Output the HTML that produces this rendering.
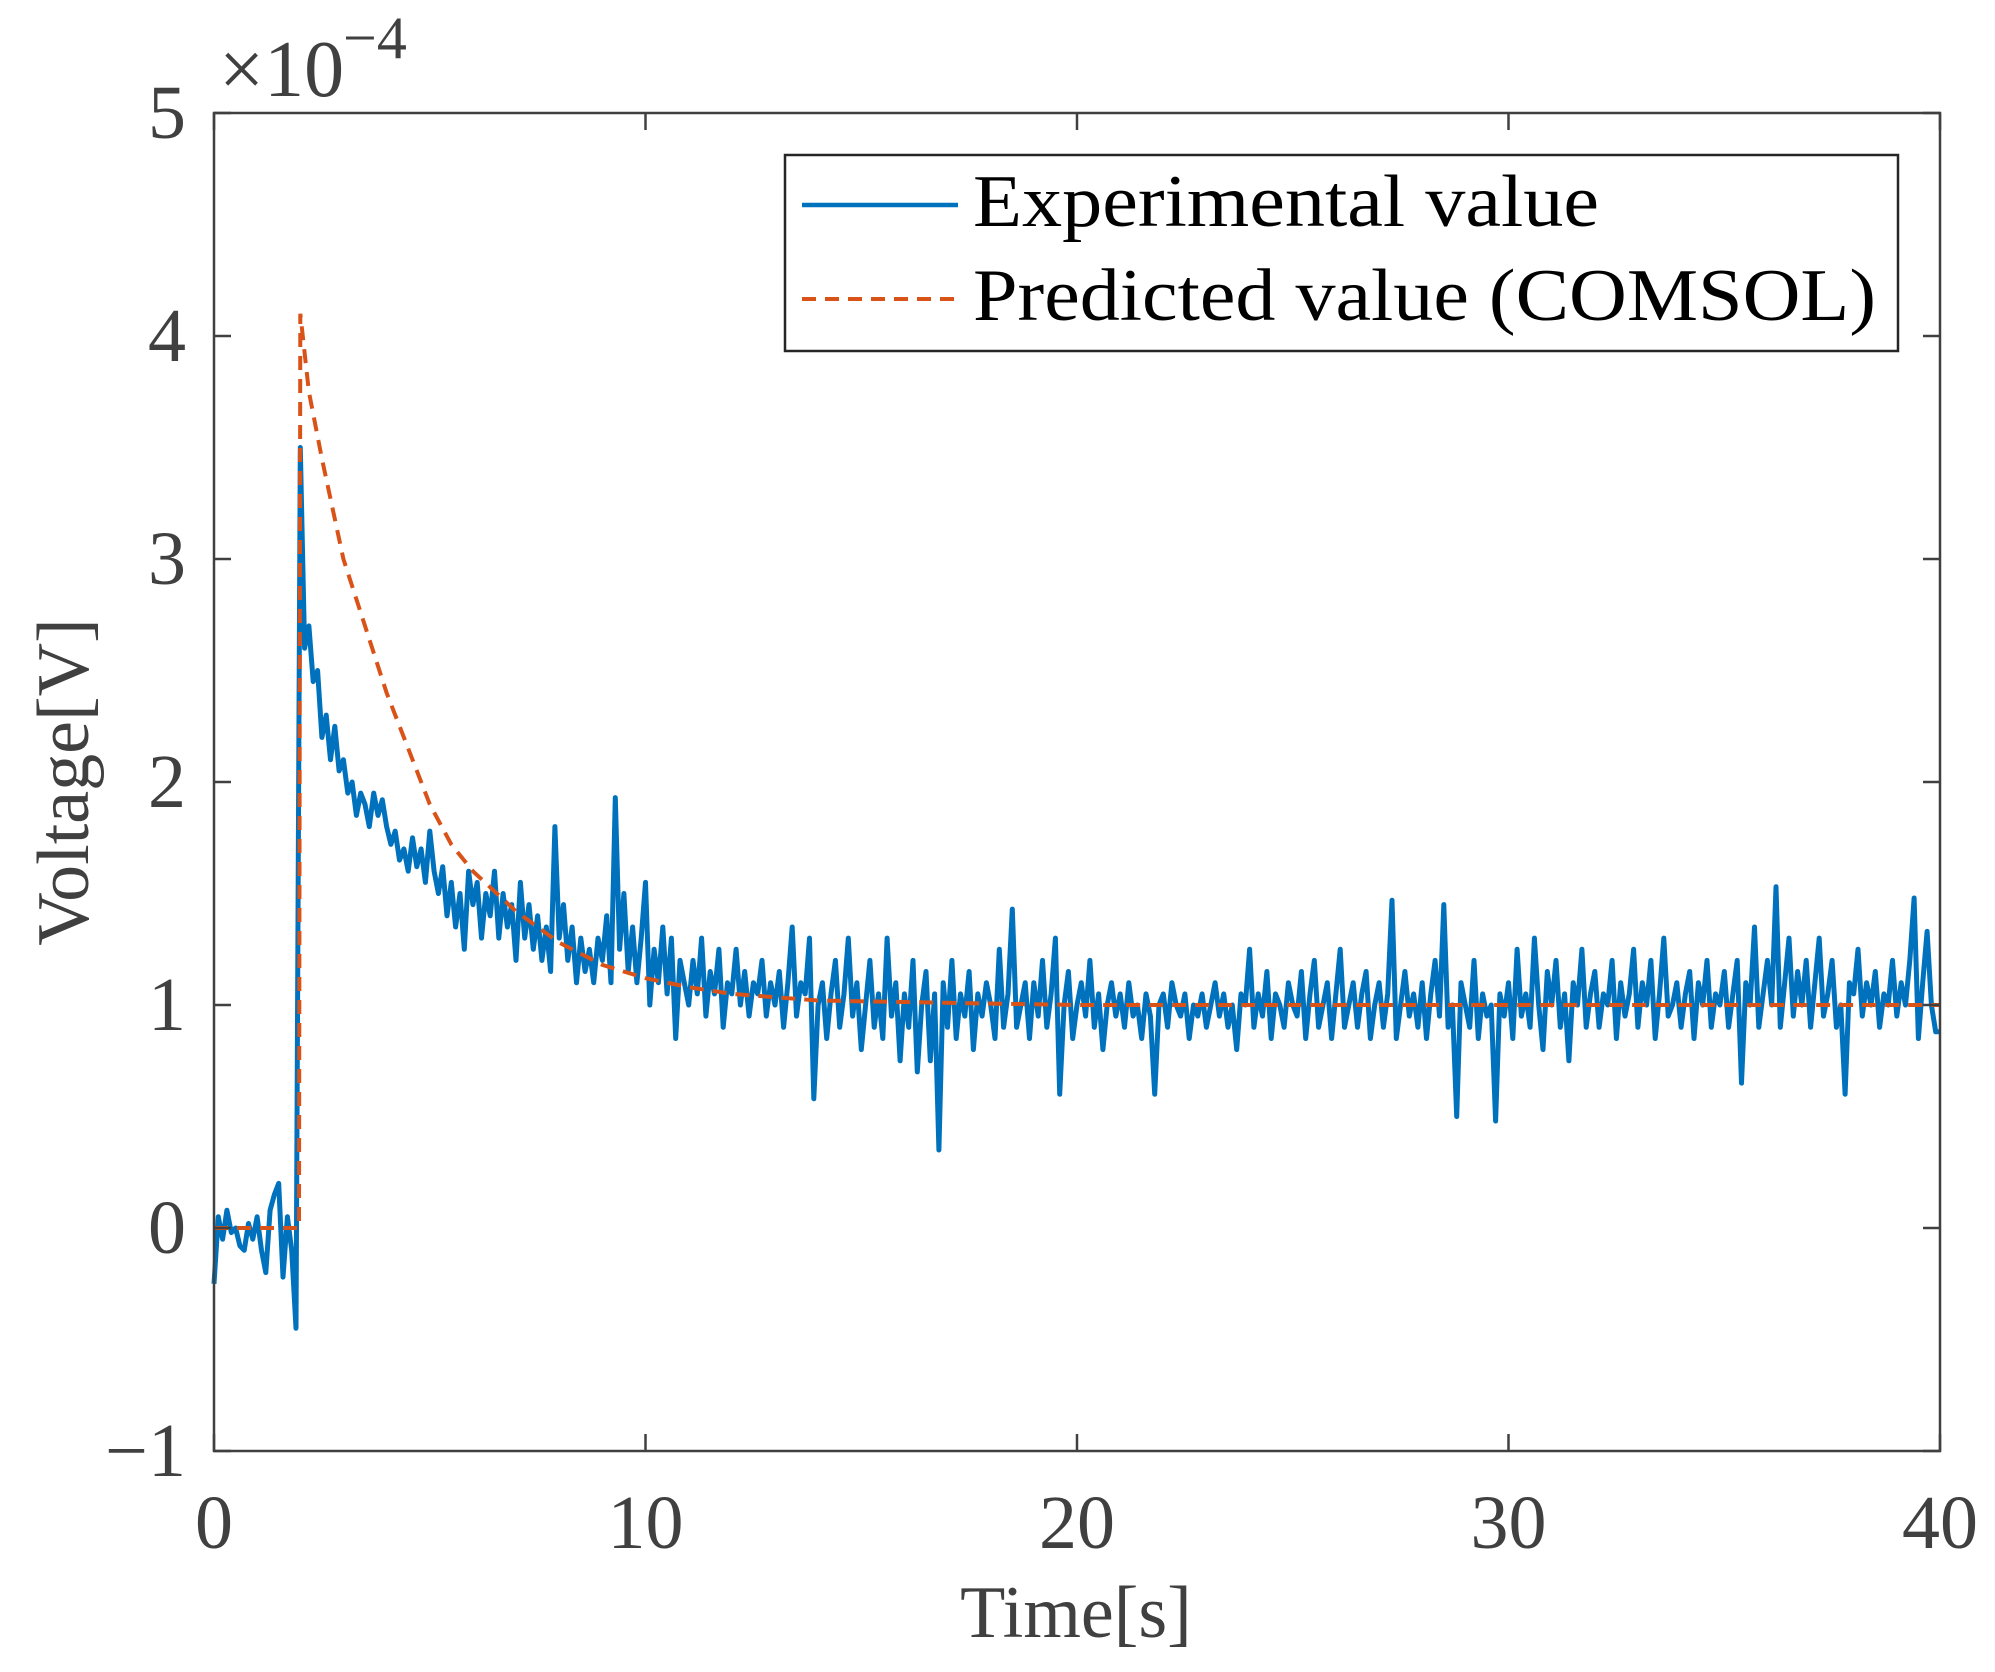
<!DOCTYPE html>
<html><head><meta charset="utf-8">
<style>html,body{margin:0;padding:0;background:#fff;}svg{display:block;}
text{font-family:"Liberation Serif",serif;fill:#404040;}</style></head>
<body>
<svg id="chart" width="1995" height="1672" viewBox="0 0 1995 1672">
<g id="grid"></g>
<g id="series"></g>
<g id="axes"></g>
</svg>
<script>
const xTicks=[0,10,20,30,40];
const yTicks=[-1,0,1,2,3,4,5];
const expStart=0, expStep=0.1;
const expValues=[
-0.25,0.05,-0.05,0.08,-0.02,0.0,-0.08,-0.1,0.02,-0.05,
0.05,-0.1,-0.2,0.08,0.15,0.2,-0.22,0.05,-0.1,-0.45,
3.5,2.6,2.7,2.45,2.5,2.2,2.3,2.1,2.25,2.05,
2.1,1.95,2.0,1.85,1.95,1.9,1.8,1.95,1.85,1.92,
1.8,1.72,1.78,1.65,1.7,1.6,1.75,1.62,1.7,1.55,
1.78,1.6,1.5,1.62,1.4,1.55,1.35,1.5,1.25,1.6,
1.45,1.55,1.3,1.5,1.4,1.6,1.3,1.5,1.35,1.45,
1.2,1.55,1.3,1.45,1.25,1.4,1.2,1.35,1.15,1.8,
1.3,1.45,1.2,1.35,1.1,1.3,1.15,1.25,1.1,1.3,
1.2,1.4,1.1,1.93,1.25,1.5,1.15,1.35,1.1,1.3,
1.55,1.0,1.25,1.1,1.35,1.05,1.3,0.85,1.2,1.1,
1.0,1.2,1.05,1.3,0.95,1.15,1.05,1.25,0.9,1.1,
1.05,1.25,1.0,1.15,0.95,1.1,1.05,1.2,0.95,1.1,
1.0,1.15,0.9,1.1,1.35,0.95,1.1,1.05,1.3,0.58,
1.0,1.1,0.85,1.05,1.2,0.9,1.05,1.3,0.95,1.1,
0.8,1.0,1.2,0.9,1.05,0.85,1.3,0.95,1.1,0.75,
1.05,0.9,1.2,0.7,1.0,1.15,0.75,1.05,0.35,1.1,
0.9,1.2,0.85,1.05,0.95,1.15,0.8,1.05,0.95,1.1,
1.0,0.85,1.25,0.9,1.05,1.43,0.9,1.0,1.1,0.85,
1.1,0.95,1.2,0.9,1.05,1.3,0.6,1.0,1.15,0.85,
1.0,1.1,0.95,1.2,0.9,1.05,0.8,1.0,1.1,0.95,
1.05,0.9,1.1,0.95,1.0,0.85,1.05,0.95,0.6,1.0,
1.05,0.9,1.1,1.0,0.95,1.05,0.85,1.0,0.95,1.05,
0.9,1.0,1.1,0.95,1.05,0.9,1.0,0.8,1.05,1.0,
1.25,0.9,1.05,0.95,1.15,0.85,1.05,1.0,0.9,1.1,
1.0,0.95,1.15,0.85,1.05,1.2,0.9,1.0,1.1,0.85,
1.05,1.25,0.9,1.0,1.1,0.9,1.05,1.15,0.85,1.0,
1.1,0.9,1.05,1.47,0.85,1.0,1.15,0.95,1.05,0.9,
1.1,0.85,1.05,1.2,0.95,1.45,0.9,1.0,0.5,1.1,
1.0,0.9,1.2,0.85,1.05,0.95,1.0,0.48,1.05,0.95,
1.1,0.85,1.25,0.95,1.05,0.9,1.3,1.0,0.8,1.15,
1.0,1.2,0.9,1.05,0.75,1.1,1.0,1.25,0.9,1.05,
1.15,0.9,1.05,1.0,1.2,0.85,1.1,0.95,1.05,1.25,
0.9,1.1,1.0,1.2,0.85,1.05,1.3,0.95,1.0,1.1,
0.9,1.05,1.15,0.85,1.1,1.0,1.2,0.9,1.05,1.0,
1.15,0.9,1.05,1.2,0.65,1.1,1.0,1.35,0.9,1.05,
1.2,1.0,1.53,0.9,1.1,1.3,0.95,1.15,1.0,1.2,
0.9,1.1,1.3,0.95,1.05,1.2,0.9,1.0,0.6,1.1,
1.05,1.25,0.95,1.1,1.0,1.15,0.9,1.05,1.0,1.2,
0.95,1.1,1.0,1.2,1.48,0.85,1.1,1.33,1.0,0.88,
0.88];
const predTimes=[0,1.97,2.0,2.2,2.5,3,3.5,4,4.5,5,5.5,6,7,8,9,10,11,12,14,17,20,40];
const predValues=[0,0,4.1,3.75,3.45,3.0,2.7,2.4,2.15,1.9,1.72,1.6,1.42,1.28,1.18,1.12,1.08,1.05,1.02,1.01,1.0,1.0];

const L=214,R=1940,T=113,B=1451,xMin=0,xMax=40,yMin=-1,yMax=5;
const sx=v=>L+(v-xMin)/(xMax-xMin)*(R-L);
const sy=v=>B-(v-yMin)/(yMax-yMin)*(B-T);
const NS='http://www.w3.org/2000/svg';
function mk(tag,attrs,parent){const e=document.createElementNS(NS,tag);for(const k in attrs)e.setAttribute(k,attrs[k]);parent.appendChild(e);return e;}
const ser=document.getElementById('series'), ax=document.getElementById('axes');

let d='';
expValues.forEach((v,i)=>{d+=(i?'L':'M')+sx(expStart+i*expStep).toFixed(1)+' '+sy(v).toFixed(1);});
const ex=mk('path',{d:d,fill:'none',stroke:'#0072BD','stroke-width':5,'stroke-linejoin':'round'},ser);


let d2='';
predTimes.forEach((t,i)=>{d2+=(i?'L':'M')+sx(t).toFixed(1)+' '+sy(predValues[i]).toFixed(1);});
const pr=mk('path',{d:d2,fill:'none',stroke:'#D95319','stroke-width':4,'stroke-dasharray':'14 9'},ser);



const box=mk('rect',{x:L,y:T,width:R-L,height:B-T,fill:'none',stroke:'#404040','stroke-width':2.5},ax);


xTicks.forEach(v=>{
  const x=sx(v);
  mk('line',{x1:x,x2:x,y1:B,y2:B-17,stroke:'#404040','stroke-width':2.5},ax);
  mk('line',{x1:x,x2:x,y1:T,y2:T+17,stroke:'#404040','stroke-width':2.5},ax);
  const t=mk('text',{x:x,y:1548,'font-size':76,'text-anchor':'middle'},ax);
  t.textContent=v;
  
  
});
yTicks.forEach(v=>{
  const y=sy(v);
  mk('line',{x1:L,x2:L+17,y1:y,y2:y,stroke:'#404040','stroke-width':2.5},ax);
  mk('line',{x1:R,x2:R-17,y1:y,y2:y,stroke:'#404040','stroke-width':2.5},ax);
  const t=mk('text',{x:186,y:y+25,'font-size':76,'text-anchor':'end'},ax);
  t.textContent=v<0?'\u2212'+Math.abs(v):v;
  
  
});
</script>
<svg style="position:absolute;left:0;top:0" width="1995" height="1672">
<text x="219" y="96" font-size="80">×10</text>
<text x="343" y="58" font-size="60">−4</text>
<text x="1076" y="1637" font-size="74" text-anchor="middle">Time[s]</text>
<text transform="translate(88,782) rotate(-90)" font-size="74" text-anchor="middle">Voltage[V]</text>
<g>
<rect x="785" y="155" width="1113" height="196" fill="#fff" stroke="#262626" stroke-width="2.5"/>
<line x1="802" y1="205" x2="958" y2="205" stroke="#0072BD" stroke-width="4.5"/>
<text x="973" y="226" font-size="74" textLength="626" lengthAdjust="spacingAndGlyphs" style="fill:#000">Experimental value</text>
<line x1="802" y1="299" x2="958" y2="299" stroke="#D95319" stroke-width="4" stroke-dasharray="14 9"/>
<text x="973" y="320" font-size="74" textLength="903" lengthAdjust="spacingAndGlyphs" style="fill:#000">Predicted value (COMSOL)</text>
</g>
</svg>
</body></html>
